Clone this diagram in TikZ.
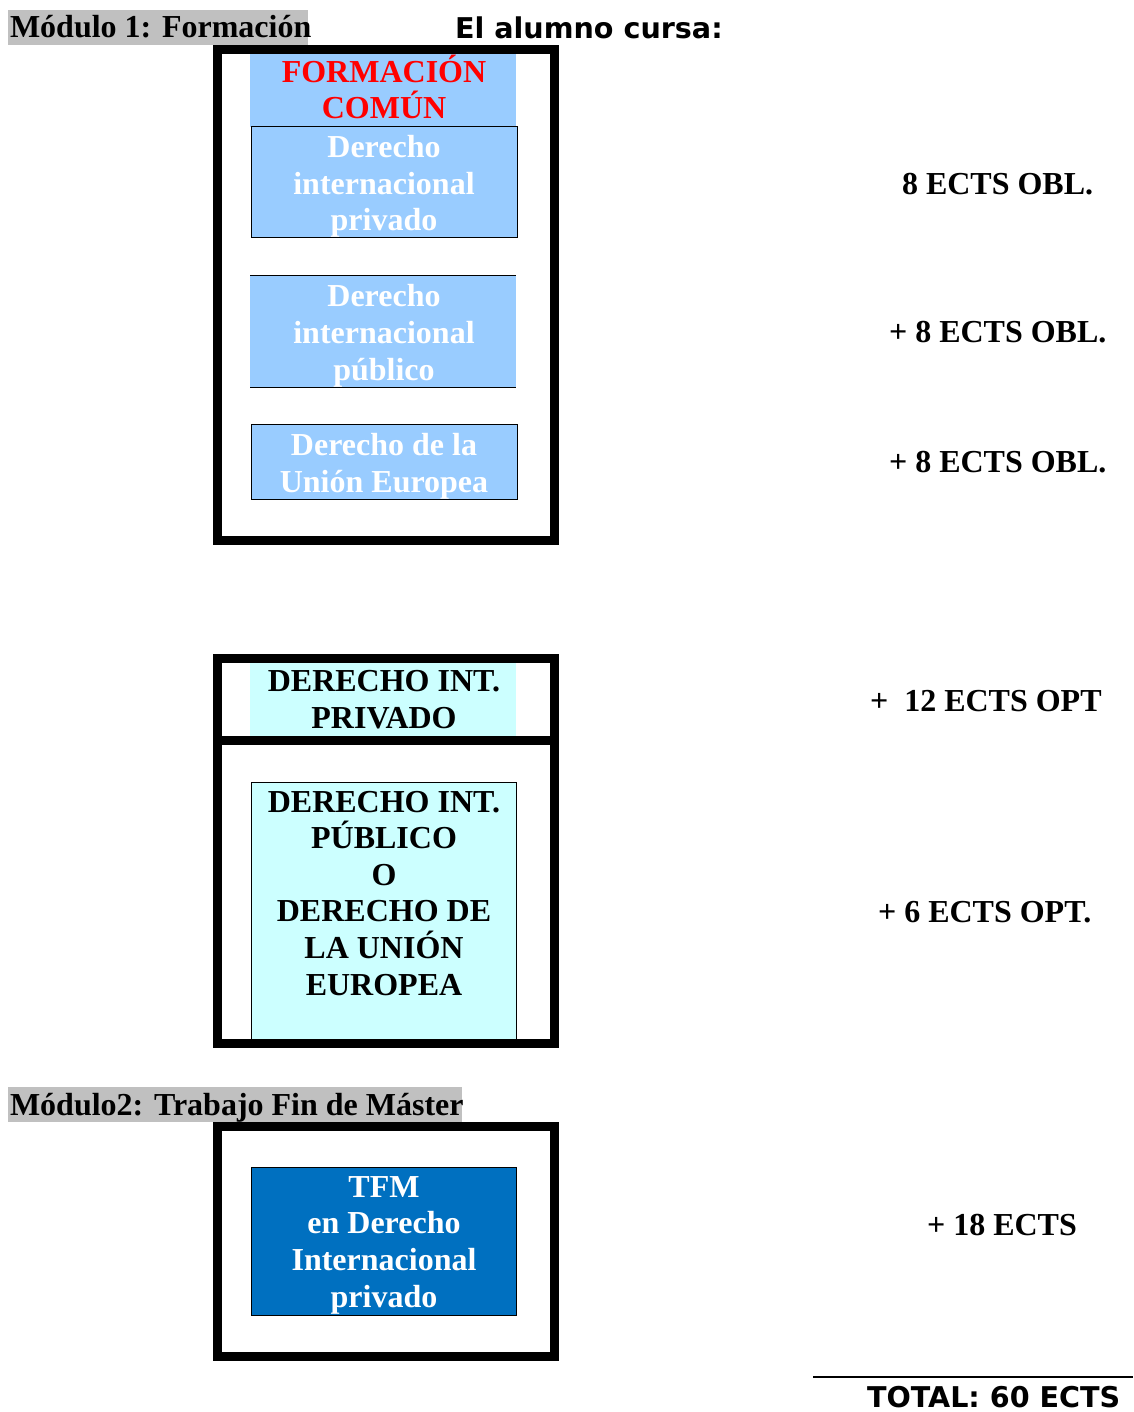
\documentclass[tikz,border=0pt]{standalone}
\usepackage{fontspec}
\setmainfont{Liberation Serif}
\newfontfamily\sansfam{DejaVu Sans}
\definecolor{lblue}{HTML}{99CCFF}
\definecolor{lcyan}{HTML}{CCFFFF}
\definecolor{dblue}{HTML}{0070C0}
\definecolor{hgray}{HTML}{C0C0C0}
\definecolor{redtxt}{HTML}{FF0000}
\begin{document}
\begin{tikzpicture}[x=1pt,y=-1pt,
  every node/.style={inner sep=0pt,outer sep=0pt},
  serif/.style={font=\fontsize{32}{36.6}\selectfont\bfseries,align=center},
  sansb/.style={font=\sansfam\fontsize{28.6}{34}\selectfont\bfseries},
  frame/.style={draw=black,line width=9pt},
  thin/.style={draw=black,line width=1pt},
  hdr/.style={fill=hgray},
  lab/.style={serif,anchor=base west}]
\useasboundingbox[fill=white] (0,0) rectangle (1133,1412);

% headers
\fill[hdr] (8,10) rectangle (308,45);
\node[serif,anchor=base west] (h1) at (10,38) {Módulo 1: Formación};
\node[sansb,anchor=base west] (alumno) at (455,39) {El alumno cursa:};

% module 1 box
\fill[lblue] (250,54) rectangle (516,127);
\filldraw[fill=lblue,thin] (251,127) rectangle (517,238);
\fill[lblue] (250,276) rectangle (516,387);
\draw[thin] (250,276) -- (516,276) (250,387) -- (516,387);
\filldraw[fill=lblue,thin] (251,424) rectangle (517,499);
\draw[frame] (217.5,49.5) rectangle (554,540.5);

\node[serif,anchor=base,text=redtxt] (fc) at (384,119) {FORMACIÓN\\COMÚN};
\node[serif,anchor=base,text=white] (dip) at (384,231) {Derecho\\internacional\\privado};
\node[serif,anchor=base,text=white] (dipu) at (384,380) {Derecho\\internacional\\público};
\node[serif,anchor=base,text=white] (due) at (384,492) {Derecho de la\\Unión Europea};

% optional block
\fill[lcyan] (250,663) rectangle (516,736);
\fill[lcyan] (251,782) rectangle (516,1040);
\draw[thin] (251,1040) -- (251,782) -- (516,782) -- (516,1040);
\draw[frame] (217.5,658.5) rectangle (554,740);
\draw[frame] (217.5,740) rectangle (554,1043.5);
\node[serif,anchor=base] (pri) at (384,728) {DERECHO INT.\\PRIVADO};
\node[serif,anchor=base] (pub) at (384,995) {DERECHO INT.\\PÚBLICO\\O\\DERECHO DE\\LA UNIÓN\\EUROPEA};

% module 2
\fill[hdr] (8,1087) rectangle (462,1122);
\node[serif,anchor=base west] (h2) at (10,1115) {Módulo2: Trabajo Fin de Máster};
\filldraw[fill=dblue,thin] (251,1167) rectangle (516,1315);
\draw[frame] (217.5,1126.5) rectangle (554,1356.5);
\node[serif,anchor=base,text=white] (tfm) at (384,1307) {TFM\\en Derecho\\Internacional\\privado};

% ECTS labels
\node[lab] (l1) at (902,195) {8 ECTS OBL.};
\node[lab] (l2) at (889,342) {+ 8 ECTS OBL.};
\node[lab] (l3) at (889,472) {+ 8 ECTS OBL.};
\node[lab] (l4) at (870,711) {+\ \ 12 ECTS OPT};
\node[lab] (l5) at (878,922) {+ 6 ECTS OPT.};
\node[lab] (l6) at (927,1235) {+ 18 ECTS};

\coordinate (tl) at (813,1377);
\coordinate (tr) at (1133,1377);
\draw[line width=2pt] (tl) -- (tr);
\node[sansb,anchor=base west,text depth=0pt] (total) at (867,1407) {TOTAL: 60 ECTS};
\end{tikzpicture}
\end{document}
